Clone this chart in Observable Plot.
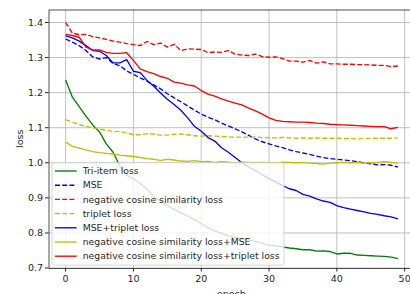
<!DOCTYPE html>
<html>
<head>
<meta charset="utf-8">
<script src="https://cdn.jsdelivr.net/npm/d3@7"></script>
<script src="https://cdn.jsdelivr.net/npm/@observablehq/plot@0.6"></script>
<style>
  html, body { margin: 0; padding: 0; background: white; overflow: hidden; }
  #chart { position: relative; width: 410px; height: 294px; }
</style>
</head>
<body>
<div id="chart"></div>
<script>
// ---- data ----
const epochs = [0,1,2,3,4,5,6,7,8,9,10,11,12,13,14,15,16,17,18,19,20,21,22,23,24,25,26,27,28,29,30,31,32,33,34,35,36,37,38,39,40,41,42,43,44,45,46,47,48,49];
const xTicks = [0, 10, 20, 30, 40, 50];
const yTicks = [0.7, 0.8, 0.9, 1.0, 1.1, 1.2, 1.3, 1.4];
const xLabel = "epoch";
const yLabel = "loss";

const triItem = [1.236,1.187,1.160,1.133,1.108,1.088,1.054,1.030,0.990,0.965,0.955,0.940,0.925,0.905,0.890,0.878,0.867,0.857,0.848,0.838,0.827,0.815,0.806,0.799,0.792,0.787,0.783,0.780,0.776,0.770,0.765,0.763,0.760,0.757,0.755,0.752,0.752,0.748,0.749,0.747,0.740,0.742,0.742,0.737,0.736,0.735,0.734,0.733,0.731,0.727];
const mse = [1.353,1.344,1.334,1.320,1.302,1.296,1.300,1.283,1.277,1.262,1.252,1.242,1.233,1.222,1.211,1.197,1.185,1.174,1.162,1.150,1.139,1.130,1.123,1.113,1.105,1.097,1.088,1.078,1.068,1.060,1.054,1.048,1.043,1.037,1.032,1.028,1.024,1.019,1.015,1.012,1.010,1.008,1.006,1.003,1.000,0.997,0.994,0.995,0.993,0.988];
const negCos = [1.400,1.370,1.365,1.366,1.360,1.356,1.352,1.347,1.344,1.340,1.337,1.334,1.346,1.337,1.341,1.330,1.338,1.320,1.325,1.324,1.323,1.314,1.316,1.315,1.320,1.310,1.307,1.306,1.310,1.303,1.301,1.302,1.297,1.290,1.290,1.287,1.292,1.284,1.288,1.282,1.282,1.281,1.281,1.280,1.280,1.279,1.278,1.278,1.274,1.276];
const triplet = [1.123,1.116,1.109,1.104,1.100,1.097,1.092,1.090,1.089,1.085,1.080,1.080,1.083,1.082,1.079,1.079,1.081,1.082,1.080,1.077,1.076,1.077,1.076,1.075,1.074,1.073,1.073,1.073,1.074,1.072,1.071,1.071,1.072,1.071,1.070,1.071,1.070,1.071,1.070,1.070,1.070,1.069,1.069,1.068,1.069,1.069,1.070,1.070,1.070,1.071];
const mseTriplet = [1.362,1.356,1.347,1.334,1.320,1.318,1.306,1.285,1.285,1.294,1.261,1.257,1.235,1.218,1.199,1.181,1.166,1.150,1.128,1.104,1.090,1.072,1.062,1.043,1.030,1.015,1.000,0.988,0.978,0.966,0.955,0.945,0.935,0.926,0.921,0.910,0.905,0.897,0.891,0.887,0.878,0.872,0.868,0.864,0.860,0.856,0.853,0.849,0.846,0.840];
const negCosMse = [1.059,1.047,1.042,1.037,1.032,1.029,1.027,1.025,1.022,1.020,1.018,1.015,1.012,1.010,1.007,1.010,1.008,1.005,1.004,1.006,1.003,1.004,1.001,1.003,1.002,1.000,1.002,1.001,1.000,1.001,1.000,1.000,1.002,1.001,1.000,1.001,0.999,0.998,0.996,0.999,1.000,1.001,1.000,1.001,0.999,1.000,1.001,1.003,1.001,0.999];
const negCosTriplet = [1.366,1.363,1.358,1.330,1.322,1.322,1.315,1.312,1.312,1.314,1.292,1.268,1.260,1.254,1.246,1.241,1.230,1.227,1.222,1.219,1.206,1.196,1.190,1.182,1.176,1.170,1.165,1.156,1.148,1.139,1.128,1.121,1.118,1.117,1.116,1.116,1.115,1.113,1.112,1.110,1.109,1.108,1.107,1.106,1.105,1.104,1.103,1.103,1.097,1.101];

const seriesNames = [
  "Tri-item loss",
  "MSE",
  "negative cosine similarity loss",
  "triplet loss",
  "MSE+triplet loss",
  "negative cosine similarity loss+MSE",
  "negative cosine similarity loss+triplet loss"
];
const seriesValues = [triItem, mse, negCos, triplet, mseTriplet, negCosMse, negCosTriplet];

// ---- styles ----
const seriesColors = ["#008000", "#0000ff", "#ff0000", "#bfbf00", "#0000ff", "#bfbf00", "#ff0000"];
const seriesDashed = [false, true, true, true, false, false, false];
const LW = 1.35;
const DASH = "5,2.2";
const INK = "#262626";
const FS = 9.5;
const LFS = 9.3;

const rows = seriesNames.map((name, i) =>
  epochs.map((e, j) => ({series: name, epoch: e, loss: seriesValues[i][j]})));

const lineMarks = rows.map((data, i) => Plot.line(data, {
  x: "epoch", y: "loss",
  stroke: seriesColors[i],
  strokeWidth: LW,
  strokeDasharray: seriesDashed[i] ? DASH : null,
  strokeLinejoin: "round",
  strokeLinecap: "butt"
}));

const W = 410, H = 294, ML = 48.5, MR = -4, MT = 9.5, MB = 26;

const chart = Plot.plot({
  width: W,
  height: H,
  marginLeft: ML,
  marginRight: MR,
  marginTop: MT,
  marginBottom: MB,
  style: {fontFamily: "DejaVu Sans", fontSize: FS + "px", background: "white", color: INK},
  x: {domain: [-2.45, 51.45]},
  y: {domain: [0.6986, 1.4357]},
  marks: [
    Plot.gridX(xTicks, {stroke: "#b0b0b0", strokeOpacity: 1, strokeWidth: 0.8}),
    Plot.gridY(yTicks, {stroke: "#b0b0b0", strokeOpacity: 1, strokeWidth: 0.8}),
    ...lineMarks,
    Plot.frame({stroke: INK, strokeWidth: 0.8}),
    Plot.axisX(xTicks, {tickSize: 3.5, tickPadding: 3, tickFormat: d => String(d),
      label: null, stroke: INK}),
    Plot.axisY(yTicks, {tickSize: 3.5, tickPadding: 2.5, tickFormat: d3.format(".1f"),
      label: null, stroke: INK})
  ]
});
document.getElementById("chart").appendChild(chart);

const svg = d3.select(chart);

// ---- axis titles ----
svg.append("text")
  .attr("x", (ML + (W - MR)) / 2).attr("y", 297)
  .attr("text-anchor", "middle")
  .attr("font-family", "DejaVu Sans").attr("font-size", FS).attr("fill", INK)
  .text(xLabel);
svg.append("text")
  .attr("transform", `translate(22.5,${(MT + (H - MB)) / 2}) rotate(-90)`)
  .attr("text-anchor", "middle")
  .attr("font-family", "DejaVu Sans").attr("font-size", FS).attr("fill", INK)
  .text(yLabel);

// ---- legend ----
const lg = svg.append("g").attr("transform", "translate(52,162.7)");
lg.append("rect")
  .attr("x", 0).attr("y", 0).attr("width", 232).attr("height", 102.5)
  .attr("rx", 2.5)
  .attr("fill", "white").attr("fill-opacity", 0.8)
  .attr("stroke", "#cccccc").attr("stroke-width", 0.8);
seriesNames.forEach((name, i) => {
  const cy = 8.3 + 14.2 * i;
  lg.append("line")
    .attr("x1", 3).attr("x2", 24.7).attr("y1", cy).attr("y2", cy)
    .attr("stroke", seriesColors[i]).attr("stroke-width", LW)
    .attr("stroke-dasharray", seriesDashed[i] ? DASH : null);
  lg.append("text")
    .attr("x", 30.7).attr("y", cy).attr("dy", "0.35em")
    .attr("text-anchor", "start")
    .attr("font-family", "DejaVu Sans").attr("font-size", LFS)
    .attr("fill", INK)
    .text(name);
});
</script>
</body>
</html>
